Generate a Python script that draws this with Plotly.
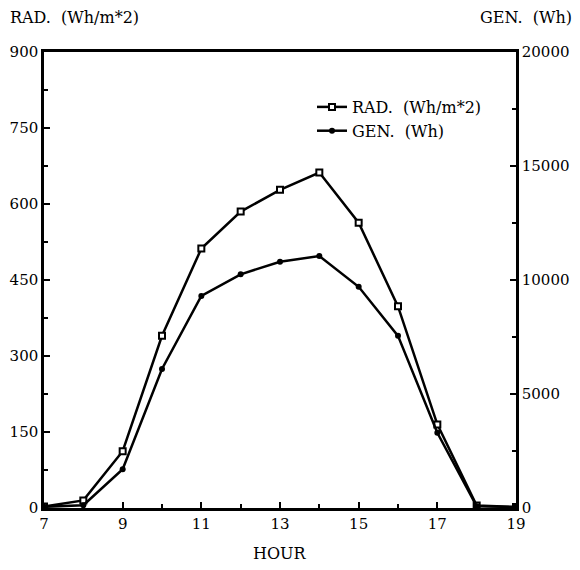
import plotly.graph_objects as go

hours = [7, 8, 9, 10, 11, 12, 13, 14, 15, 16, 17, 18, 19]
rad_wh_m2 = [3, 15, 112, 340, 512, 585, 628, 662, 563, 398, 165, 5, 2]
gen_wh = [50, 120, 1700, 6100, 9300, 10250, 10800, 11050, 9700, 7550, 3300, 80, 40]

x_tick_vals = [7, 9, 11, 13, 15, 17, 19]
left_tick_vals = [0, 150, 300, 450, 600, 750, 900]
right_tick_vals = [0, 5000, 10000, 15000, 20000]

FONT = "DejaVu Serif, Liberation Serif, serif"
FS = 15
FS_TXT = 16

# page has an 8px body margin; figure is sized to fill the rest
W, H = 572, 562
L, R, T, B = 36, 64, 44, 62
pw, ph = W - L - R, H - T - B


def px(xf):
    return (xf - 8 - L) / pw


def py(yf):
    return (H - B - (yf - 8)) / ph


fig = go.Figure()
fig.add_trace(go.Scatter(
    x=hours, y=rad_wh_m2, name="RAD.  (Wh/m*2)", mode="lines+markers",
    line=dict(color="black", width=2.5),
    marker=dict(symbol="square", size=6, color="white", line=dict(color="black", width=2)),
    yaxis="y"))
fig.add_trace(go.Scatter(
    x=hours, y=gen_wh, name="GEN.  (Wh)", mode="lines+markers",
    line=dict(color="black", width=2.5),
    marker=dict(symbol="circle", size=6, color="black"),
    yaxis="y2"))

tick_common = dict(showgrid=False, zeroline=False, showline=True, linecolor="black", linewidth=2.5,
                   ticks="inside", ticklen=6, tickwidth=2, tickcolor="black", automargin=False,
                   tickfont=dict(size=FS, family=FONT))

fig.update_layout(
    width=W, height=H,
    margin=dict(l=L, r=R, t=T, b=B, autoexpand=False),
    paper_bgcolor="white", plot_bgcolor="white",
    font=dict(family=FONT, size=FS, color="black"),
    showlegend=True,
    legend=dict(x=px(312), y=py(90), xanchor="left", yanchor="top",
                bgcolor="rgba(0,0,0,0)", font=dict(size=FS_TXT, family=FONT),
                tracegroupgap=0, itemwidth=30),
    xaxis=dict(range=[7, 19], tickvals=x_tick_vals, ticktext=[str(v) for v in x_tick_vals],
               mirror=True,
               minor=dict(dtick=1, tick0=7, ticks="inside", ticklen=4, tickwidth=1.5, tickcolor="black"),
               **tick_common),
    yaxis=dict(range=[0, 900], tickvals=left_tick_vals, ticktext=[str(v) for v in left_tick_vals],
               minor=dict(dtick=75, tick0=0, ticks="inside", ticklen=4, tickwidth=1.5, tickcolor="black"),
               **tick_common),
    yaxis2=dict(range=[0, 20000], tickvals=right_tick_vals, ticktext=[str(v) for v in right_tick_vals],
                overlaying="y", side="right",
                minor=dict(dtick=2500, tick0=0, ticks="inside", ticklen=4, tickwidth=1.5, tickcolor="black"),
                **tick_common),
)
fig.add_annotation(text="RAD.  (Wh/m*2)", x=px(8), y=py(17),
                   xref="paper", yref="paper", showarrow=False, xanchor="left", yanchor="middle",
                   font=dict(size=FS_TXT, family=FONT))
fig.add_annotation(text="GEN.  (Wh)", x=px(574), y=py(17),
                   xref="paper", yref="paper", showarrow=False, xanchor="right", yanchor="middle",
                   font=dict(size=FS_TXT, family=FONT))
fig.add_annotation(text="HOUR", x=px(280), y=py(553),
                   xref="paper", yref="paper", showarrow=False, xanchor="center", yanchor="middle",
                   font=dict(size=FS_TXT, family=FONT))

fig.write_html("out.html")
